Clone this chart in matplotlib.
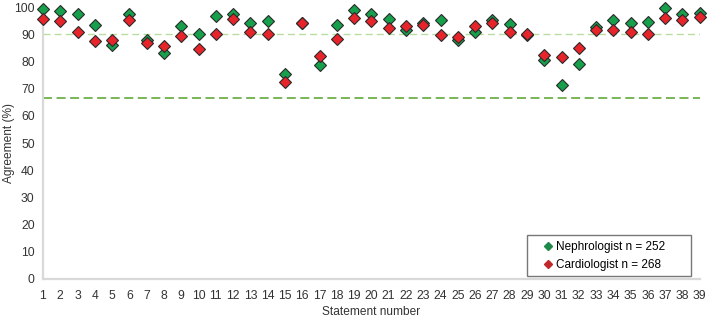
import numpy as np
import matplotlib.pyplot as plt

plt.rcParams['font.family'] = ['Liberation Sans', 'DejaVu Sans']

statements = list(range(1, 40))

nephrologist = [99.4, 98.4, 97.6, 93.3, 86.0, 97.6, 88.0, 83.1, 92.9, 89.9,
                96.6, 97.6, 94.3, 94.9, 75.3, 94.3, 78.6, 93.3, 98.8, 97.6,
                95.5, 91.7, 94.0, 95.4, 88.0, 90.8, 95.1, 93.7, 89.6, 80.5,
                71.3, 79.0, 92.7, 95.4, 94.3, 94.5, 99.8, 97.6, 97.8]
cardiologist = [95.7, 94.8, 90.8, 87.4, 87.8, 95.1, 86.6, 85.6, 89.3, 84.4,
                90.2, 95.5, 90.8, 90.0, 72.5, 94.3, 81.9, 88.4, 96.1, 94.9,
                92.4, 92.9, 93.3, 89.6, 88.8, 92.9, 94.1, 90.8, 90.2, 82.5,
                81.7, 85.1, 91.5, 91.7, 90.8, 90.0, 96.1, 95.1, 96.4]

labels = ["Nephrologist n = 252", "Cardiologist n = 268"]
thresholds = [90, 66.7]

fig = plt.figure(figsize=(7.09, 3.19), dpi=100)
ax = fig.add_axes([0.0606, 0.1254, 0.9264, 0.8526])

ax.axhline(thresholds[0], color="#b9dca0", lw=1.0, ls=(0, (5, 3)), zorder=1)
ax.axhline(thresholds[1], color="#6db04a", lw=1.3, ls=(0, (5, 2.5)), zorder=1)

ax.plot(statements, nephrologist, ls="none", marker="D", ms=6.5,
        mfc="#17a04c", mec="#2a2a2a", mew=0.8, clip_on=False, zorder=3)
ax.plot(statements, cardiologist, ls="none", marker="D", ms=6.5,
        mfc="#e8242b", mec="#2a2a2a", mew=0.8, clip_on=False, zorder=4)

# legend handles (smaller markers than the data)
h1, = ax.plot([], [], ls="none", marker="D", ms=4.5, mfc="#1e8a4a", mec="#1e8a4a")
h2, = ax.plot([], [], ls="none", marker="D", ms=4.5, mfc="#c0282c", mec="#c0282c")
leg = ax.legend([h1, h2], labels, loc="lower left",
                bbox_to_anchor=(0.737, 0.011, 0.25, 0.15), mode="expand",
                fontsize=8.5, frameon=True, fancybox=False, handlelength=2.6,
                handletextpad=-0.6, borderpad=0.45, labelspacing=0.5,
                borderaxespad=0.0)
leg.get_frame().set_edgecolor("#555555")
leg.get_frame().set_linewidth(1.0)

ax.set_xlim(1, 39)
ax.set_ylim(0, 100)
ax.set_xticks(statements)
ax.set_yticks(np.arange(0, 101, 10))
ax.tick_params(length=0, labelsize=8.7, colors="#333333", pad=6)
ax.tick_params(axis="x", pad=8)

for s in ["top", "right"]:
    ax.spines[s].set_visible(False)
for s in ["left", "bottom"]:
    ax.spines[s].set_color("#d9d9d9")
    ax.spines[s].set_linewidth(1.6)

ax.set_xlabel("Statement number", fontsize=8.6, color="#333333", labelpad=3)
ax.set_ylabel("Agreement (%)", fontsize=8.6, color="#333333")
ax.yaxis.set_label_coords(-0.043, 0.5)

fig.savefig("out.png", dpi=100)
